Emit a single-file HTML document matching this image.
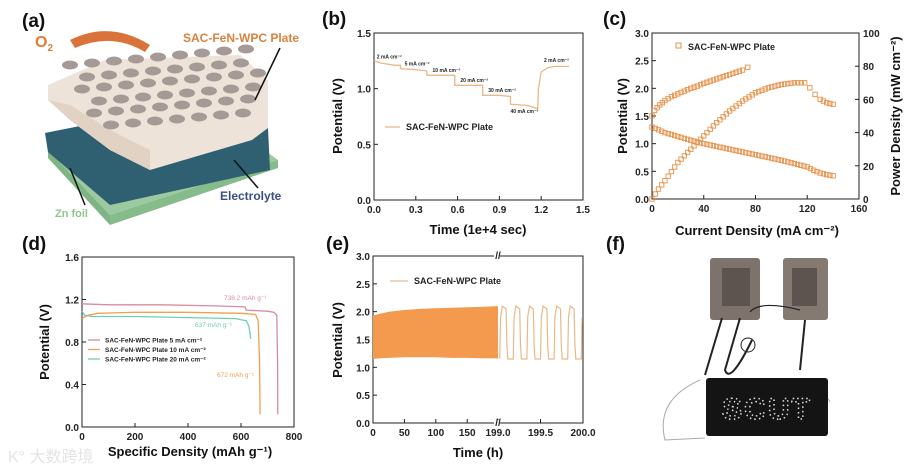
<!DOCTYPE html>
<html><head><meta charset="utf-8">
<style>
html,body{margin:0;padding:0;background:#fff;}
svg{display:block;font-family:"Liberation Sans",Arial,sans-serif;}
.t{font-size:10px;font-weight:bold;fill:#222;}
.ax{font-size:13px;font-weight:bold;fill:#111;}
.pl{font-size:19px;font-weight:bold;fill:#111;}
</style></head>
<body>
<svg id="fig" width="913" height="470" viewBox="0 0 913 470">
  <g>
    <text class="pl" x="22" y="27">(a)</text>
    <polygon points="48,150 220,118 278,160 110,215" fill="#9cc9a0"/>
    <polygon points="48,150 110,215 110,225 48,158" fill="#7fb485"/>
    <polygon points="110,215 278,160 278,168 110,225" fill="#86bb8c"/>
    <polygon points="45,133 210,100 268,128 270,170 110,205 48,152" fill="#2f6072"/>
    <polygon points="48,85 105,60 240,55 268,80 268,128 252,140 150,170 110,150 70,120 48,100" fill="#eee3d9"/>
    <polygon points="48,100 70,120 110,150 150,170 150,150 110,130 70,105" fill="#e2d2c4"/>
    <g fill="#a59a95" id="holes"></g>
    <path d="M70,40 Q110,20 150,45 L145,52 Q112,32 75,48 Z" fill="#d9733a"/>
    <text x="35" y="47" font-size="16" font-weight="bold" fill="#e07b39">O<tspan font-size="10" dy="4">2</tspan></text>
    <text x="183" y="42" font-size="12" font-weight="bold" fill="#d9823f">SAC-FeN-WPC Plate</text>
    <line x1="280" y1="48" x2="255" y2="100" stroke="#111" stroke-width="1.5"/>
    <line x1="258" y1="188" x2="234" y2="160" stroke="#111" stroke-width="1.5"/>
    <text x="220" y="200" font-size="12" font-weight="bold" fill="#3b4f86">Electrolyte</text>
    <line x1="85" y1="205" x2="70" y2="168" stroke="#111" stroke-width="1.5"/>
    <text x="55" y="217" font-size="11" font-weight="bold" fill="#8cc78e">Zn foil</text>
  </g>

  <text class="pl" x="322" y="25">(b)</text>
  <text class="pl" x="603" y="25">(c)</text>
  <text class="pl" x="22" y="250">(d)</text>
  <text class="pl" x="326" y="250">(e)</text>
  <text class="pl" x="606" y="250">(f)</text>

  <g id="pb"></g>
  <g id="pc"></g>
  <g id="pd"></g>
  <g id="pe"></g>

  <g>
    <rect x="710" y="258" width="50" height="62" rx="3" fill="#7e736c"/>
    <rect x="783" y="258" width="45" height="62" rx="3" fill="#857a72"/>
    <rect x="722" y="268" width="28" height="38" fill="#5d544f"/>
    <rect x="792" y="268" width="25" height="38" fill="#5d544f"/>
    <path d="M750,312 Q760,300 800,310" stroke="#222" fill="none" stroke-width="1.2"/>
    <path d="M722,318 L705,375 M740,318 L725,370 Q730,385 752,340 M805,320 L800,370" stroke="#222" fill="none" stroke-width="2"/>
    <circle cx="748" cy="345" r="7" stroke="#222" fill="none"/>
    <path d="M700,380 Q655,400 665,440 L705,438 M810,380 Q830,400 830,402" stroke="#aaa" fill="none"/>
    <rect x="706" y="378" width="122" height="58" rx="3" fill="#141414"/>
    <text x="767" y="419" text-anchor="middle" font-size="30" fill="none" stroke="#ddd" stroke-width="1.5" stroke-dasharray="1.5 3" font-weight="bold" letter-spacing="2">SCUT</text>
  </g>
  <text x="8" y="462" font-size="16" fill="#ddd" opacity="0.8">K° 大数跨境</text>
</svg>
<script>
// ---- Panel (b) data ----
const bTime = [0,0.05,0.1,0.15,0.19,0.19,0.3,0.38,0.38,0.5,0.58,0.58,0.7,0.78,0.78,0.9,0.98,0.98,1.1,1.175,1.18,1.2,1.25,1.3,1.4];
const bPot  = [1.25,1.23,1.22,1.21,1.21,1.18,1.17,1.16,1.12,1.12,1.12,1.03,1.03,1.03,0.94,0.94,0.93,0.86,0.85,0.82,1.0,1.15,1.19,1.2,1.2];
const bXTicks = [0,0.3,0.6,0.9,1.2,1.5];
const bYTicks = [0,0.5,1.0,1.5];
const bAnn = ["2 mA cm⁻²","5 mA cm⁻²","10 mA cm⁻²","20 mA cm⁻²","30 mA cm⁻²","40 mA cm⁻²","2 mA cm⁻²"];
const bAnnX = [0.02,0.22,0.42,0.62,0.82,0.98,1.22];
const bAnnY = [1.27,1.21,1.15,1.06,0.97,0.78,1.24];
// ---- Panel (c) data ----
const cChargeX = [0,2,4,6,8,10,15,20,25,30,35,40,45,50,55,60,65,70,74];
const cChargeY = [1.5,1.6,1.65,1.7,1.74,1.78,1.85,1.9,1.95,2.0,2.04,2.09,2.13,2.17,2.21,2.25,2.29,2.33,2.38];
const cDisX = [0,5,10,20,30,40,50,60,70,80,90,100,110,120,125,130,135,140];
const cDisY = [1.3,1.25,1.2,1.13,1.06,1.0,0.95,0.9,0.85,0.8,0.75,0.7,0.64,0.58,0.52,0.47,0.44,0.42];
const cPowX = [0,5,10,20,30,40,50,60,70,80,90,100,110,118,122,126,130,135,140];
const cPowY = [0,6,11,22,30,38,46,53,59,64,67,69,70,70,67,63,60,58,57];
const cXTicks = [0,40,80,120,160];
const cYTicks = [0,0.5,1.0,1.5,2.0,2.5,3.0];
const cY2Ticks = [0,20,40,60,80,100];
// ---- Panel (d) data ----
const dXTicks = [0,200,400,600,800];
const dYTicks = [0,0.4,0.8,1.2,1.6];
const d5X = [0,100,300,500,615,620,700,725,735,738,739];
const d5Y = [1.16,1.15,1.15,1.14,1.13,1.1,1.09,1.08,1.05,0.6,0.12];
const d10X = [0,20,60,200,400,600,655,665,670,672];
const d10Y = [1.02,1.05,1.07,1.08,1.08,1.07,1.06,1.0,0.6,0.12];
const d20X = [0,10,40,200,400,580,620,630,637];
const d20Y = [1.09,1.05,1.04,1.04,1.03,1.02,1.0,0.95,0.83];
// ---- Panel (e) data ----
const eXTicks = ["0","50","100","150","199.0","199.5","200.0"];
const eYTicks = [0,0.5,1.0,1.5,2.0,2.5,3.0];
const eBandT = [0,10,25,50,75,100,125,150,175,199];
const eBandTop = [1.93,1.96,2.0,2.03,2.05,2.06,2.07,2.08,2.09,2.1];
const eBandBot = [1.15,1.16,1.17,1.18,1.18,1.18,1.17,1.17,1.16,1.16];
const eCycStart = [199.02,199.18,199.34,199.5,199.66,199.82,199.98];
const eCycHigh = 2.1, eCycLow = 1.15;

const NS="http://www.w3.org/2000/svg";
function mk(p,tag,attrs){const e=document.createElementNS(NS,tag);for(const k in attrs)e.setAttribute(k,attrs[k]);p.appendChild(e);return e;}
function lin(d0,d1,r0,r1){return v=>r0+(v-d0)*(r1-r0)/(d1-d0);}
function frame(g,x0,y0,x1,y1){
  const r=mk(g,'rect',{x:x0,y:y0,width:x1-x0,height:y1-y0,fill:'none',stroke:'#222','stroke-width':1});
  
  
}
function text(g,x,y,s,cls,anchor,name){const t=mk(g,'text',{x:x,y:y,'class':cls,'text-anchor':anchor||'middle'});t.textContent=s;
  
  
  return t;}
function poly(g,xs,ys,sx,sy,color,w,name){
  const pts=xs.map((v,i)=>sx(v).toFixed(1)+','+sy(ys[i]).toFixed(1)).join(' ');
  const p=mk(g,'polyline',{points:pts,fill:'none',stroke:color,'stroke-width':w||1.3});
  
  
  return p;}
function xticks(g,ticks,sx,y,labels){ticks.forEach((v,i)=>{mk(g,'line',{x1:sx(v),x2:sx(v),y1:y,y2:y-4,stroke:'#222'});
  text(g,sx(v),y+13,labels?labels[i]:String(v),'t','middle','x-tick-label');});}
function yticks(g,ticks,sy,x,fmt,right){ticks.forEach(v=>{mk(g,'line',{x1:x,x2:right?x-4:x+4,y1:sy(v),y2:sy(v),stroke:'#222'});
  text(g,right?x+4:x-3,sy(v)+4,fmt(v),'t',right?'start':'end','y-tick-label');});}
function rtext(g,x,y,s,name){const t=text(g,0,0,s,'ax','middle',name);t.setAttribute('transform','translate('+x+','+y+') rotate(-90)');return t;}

// Panel b
(function(){const g=document.getElementById('pb');const X0=374,X1=583,Y0=33,Y1=200;
 const sx=lin(0,1.5,X0,X1),sy=lin(0,1.5,Y1,Y0);frame(g,X0,Y0,X1,Y1);
 xticks(g,bXTicks,sx,Y1,bXTicks.map(v=>v.toFixed(1)));yticks(g,bYTicks,sy,X0,v=>v.toFixed(1));
 poly(g,bTime,bPot,sx,sy,'#e9b98a',1.3,'series-sac-fen-wpc-plate');
 bAnn.forEach((s,i)=>{const t=text(g,sx(bAnnX[i]),sy(bAnnY[i]),s,'t','start','current-annotation');t.setAttribute('style','font-size:5px');});
 mk(g,'line',{x1:385,x2:400,y1:127,y2:127,stroke:'#e9b98a','stroke-width':1.3});
 const l=text(g,406,130,'SAC-FeN-WPC Plate','t','start','legend-entry');l.setAttribute('style','font-size:9px');
 text(g,478,234,'Time (1e+4 sec)','ax','middle','x-axis-title');
 rtext(g,342,116,'Potential (V)','y-axis-title');})();

// Panel c
(function(){const g=document.getElementById('pc');const X0=652,X1=859,Y0=33,Y1=199;
 const sx=lin(0,160,X0,X1),sy=lin(0,3,Y1,Y0),sy2=lin(0,100,Y1,Y0);frame(g,X0,Y0,X1,Y1);
 xticks(g,cXTicks,sx,Y1);yticks(g,cY2Ticks.map(v=>v),sy2,X1,v=>String(v),true);yticks(g,cYTicks,sy,X0,v=>v.toFixed(1));
 function marks(xs,ys,syf,name){const n=xs.length;const pts=[];
  for(let i=0;i<n-1;i++){const steps=Math.max(1,Math.round((xs[i+1]-xs[i])/2.8));for(let k=0;k<steps;k++){const f=k/steps;pts.push([xs[i]+f*(xs[i+1]-xs[i]),ys[i]+f*(ys[i+1]-ys[i])]);}}
  pts.push([xs[n-1],ys[n-1]]);
  pts.forEach(p=>{const r=mk(g,'rect',{x:sx(p[0])-2.2,y:syf(p[1])-2.2,width:4.4,height:4.4,fill:'none',stroke:'#e8914a','stroke-width':0.9});
   
   });}
 marks(cChargeX,cChargeY,sy,'charge-point');marks(cDisX,cDisY,sy,'discharge-point');marks(cPowX,cPowY,sy2,'power-point');
 mk(g,'rect',{x:676,y:43,width:5,height:5,fill:'none',stroke:'#e8914a'});
 const l=text(g,688,50,'SAC-FeN-WPC Plate','t','start','legend-entry');l.setAttribute('style','font-size:9px');
 text(g,757,235,'Current Density (mA cm⁻²)','ax','middle','x-axis-title');
 rtext(g,627,116,'Potential (V)','y-axis-title');rtext(g,900,116,'Power Density (mW cm⁻²)','y2-axis-title');})();

// Panel d
(function(){const g=document.getElementById('pd');const X0=82,X1=294,Y0=257,Y1=427;
 const sx=lin(0,800,X0,X1),sy=lin(0,1.6,Y1,Y0);frame(g,X0,Y0,X1,Y1);
 xticks(g,dXTicks,sx,Y1);yticks(g,dYTicks,sy,X0,v=>v.toFixed(1));
 poly(g,d5X,d5Y,sx,sy,'#d98aa5',1.3,'series-5-ma');poly(g,d10X,d10Y,sx,sy,'#f0a050',1.3,'series-10-ma');poly(g,d20X,d20Y,sx,sy,'#6fcfb0',1.3,'series-20-ma');
 const cols=['#d98aa5','#f0a050','#6fcfb0'],labs=['SAC-FeN-WPC Plate  5  mA cm⁻²','SAC-FeN-WPC Plate 10 mA cm⁻²','SAC-FeN-WPC Plate 20 mA cm⁻²'];
 labs.forEach((s,i)=>{mk(g,'line',{x1:88,x2:100,y1:340+i*9.5,y2:340+i*9.5,stroke:cols[i],'stroke-width':1.3});const t=text(g,105,342.5+i*9.5,s,'t','start','legend-entry');t.setAttribute('style','font-size:6.5px');});
 const a1=text(g,224,300,'738.2 mAh g⁻¹','t','start','annotation-738');a1.setAttribute('style','font-size:6.5px;font-weight:normal;fill:#d98aa5');
 const a2=text(g,195,327,'637 mAh g⁻¹','t','start','annotation-637');a2.setAttribute('style','font-size:6.5px;font-weight:normal;fill:#6fcfb0');
 const a3=text(g,217,377,'672 mAh g⁻¹','t','start','annotation-672');a3.setAttribute('style','font-size:6.5px;font-weight:normal;fill:#f0a050');
 text(g,190,456,'Specific Density (mAh g⁻¹)','ax','middle','x-axis-title');
 rtext(g,49,342,'Potential (V)','y-axis-title');})();

// Panel e
(function(){const g=document.getElementById('pe');const X0=373,X1=583,XB=498,Y0=256,Y1=423;
 const sxa=lin(0,199,X0,XB),sxb=lin(199,200,XB,X1),sy=lin(0,3,Y1,Y0);frame(g,X0,Y0,X1,Y1);
 const tpos=[0,50,100,150].map(sxa).concat([199,199.5,200].map(sxb));
 tpos.forEach((x,i)=>{mk(g,'line',{x1:x,x2:x,y1:Y1,y2:Y1-4,stroke:'#222'});text(g,x,Y1+13,eXTicks[i],'t','middle','x-tick-label');});
 yticks(g,eYTicks,sy,X0,v=>v.toFixed(1));
 let d='M'+eBandT.map((t,i)=>sxa(t).toFixed(1)+','+sy(eBandTop[i]).toFixed(1)).join(' L');
 for(let i=eBandT.length-1;i>=0;i--)d+=' L'+sxa(eBandT[i]).toFixed(1)+','+sy(eBandBot[i]).toFixed(1);
 const band=mk(g,'path',{d:d+'Z',fill:'#f39a4f'});
 
 
 const cx=[],cy=[];
 eCycStart.forEach(t=>{cx.push(t,t+0.01,t+0.03,t+0.075,t+0.085,t+0.095,t+0.16);cy.push(eCycLow,1.9,eCycHigh,eCycHigh-0.05,1.4,eCycLow,eCycLow);});
 const cxc=[],cyc=[];cx.forEach((v,i)=>{if(v<=200){cxc.push(v);cyc.push(cy[i]);}});
 poly(g,cxc,cyc,sxb,sy,'#e9b98a',1.2,'cycling-curve-zoom');
 mk(g,'rect',{x:XB-4,y:Y0-3,width:6,height:6,fill:'#fff'});mk(g,'rect',{x:XB-4,y:Y1-3,width:6,height:6,fill:'#fff'});
 text(g,XB,Y0+3,'//','t','middle','axis-break');text(g,XB,Y1+3,'//','t','middle','axis-break');
 mk(g,'line',{x1:390,x2:408,y1:281,y2:281,stroke:'#e9b98a','stroke-width':1.3});
 const l=text(g,414,284,'SAC-FeN-WPC Plate','t','start','legend-entry');l.setAttribute('style','font-size:9px');
 text(g,478,457,'Time (h)','ax','middle','x-axis-title');
 rtext(g,342,340,'Potential (V)','y-axis-title');})();

// Panel a honeycomb holes
(function(){const g=document.getElementById('holes');
 for(let r=0;r<6;r++)for(let c=0;c<9;c++){const x=70+c*22+r*6+(r%2)*11,y=65+r*12-c*2;
  if(x>262||x<52)continue;const e=mk(g,'ellipse',{cx:x,cy:y,rx:8,ry:4.5});
  
  }})();
</script>
</body></html>
